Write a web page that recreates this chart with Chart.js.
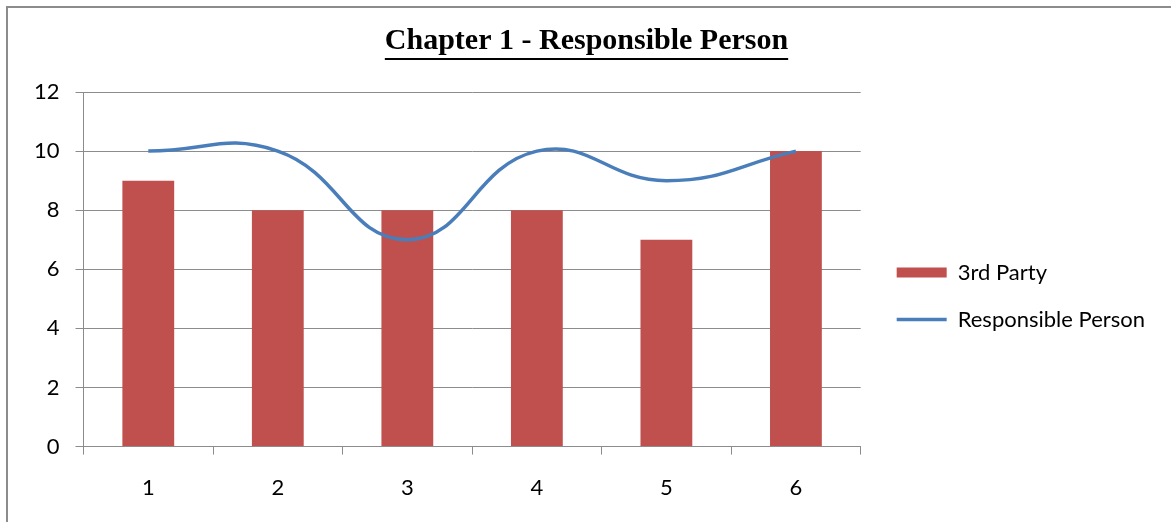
<!DOCTYPE html>
<html>
<head>
<meta charset="utf-8">
<script src="https://cdn.jsdelivr.net/npm/chart.js@4.4.1/dist/chart.umd.min.js"></script>
<style>
  html, body { margin: 0; padding: 0; background: #fff; overflow: hidden; }
  #wrap { position: relative; width: 1171px; height: 522px; }
  #frame { position: absolute; left: 6px; top: 6px; width: 1200px; height: 600px; border: 2px solid #8c8c8c; box-sizing: border-box; }
  canvas { position: absolute; left: 0; top: 0; }
</style>
</head>
<body>
<div id="wrap">
  <div id="frame"></div>
  <canvas id="c" width="1171" height="522"></canvas>
</div>
<script>
const categories = ['1', '2', '3', '4', '5', '6'];
const thirdParty = [9, 8, 8, 8, 7, 10];
const responsiblePerson = [10, 10, 7, 10, 9, 10];
const yTicks = [0, 2, 4, 6, 8, 10, 12];

const titleText = 'Chapter 1 - Responsible Person';
const labelFont = { family: 'Lato, "Liberation Sans", sans-serif', size: 22 };
const gridColor = '#8c8c8c';

// draws the underline under the title
const underlineTitle = {
  id: 'underlineTitle',
  afterDraw(chart) {
    const tb = chart.titleBlock;
    if (!tb) return;
    const ctx = chart.ctx;
    const f = Chart.helpers.toFont(tb.options.font);
    ctx.save();
    ctx.font = f.string;
    const w = ctx.measureText(titleText).width;
    const cx = tb.left + tb.width / 2;
    const y = tb.top + tb.options.padding.top + f.lineHeight / 2 + f.size * 0.6;
    ctx.strokeStyle = '#000';
    ctx.lineWidth = 2;
    ctx.beginPath();
    ctx.moveTo(cx - w / 2, y);
    ctx.lineTo(cx + w / 2, y);
    ctx.stroke();
    ctx.restore();
  }
};

new Chart(document.getElementById('c'), {
  data: {
    labels: categories,
    datasets: [
      {
        type: 'line',
        label: 'Responsible Person',
        data: responsiblePerson,
        borderColor: '#4a7ebb',
        backgroundColor: '#4a7ebb',
        borderWidth: 3.5,
        pointRadius: 0,
        tension: 0.45,
        fill: false
      },
      {
        type: 'bar',
        label: '3rd Party',
        data: thirdParty,
        backgroundColor: '#c0504d',
        borderWidth: 0,
        categoryPercentage: 1,
        barPercentage: 0.4
      }
    ]
  },
  options: {
    responsive: false,
    animation: false,
    layout: { padding: { left: 18, right: 16, top: 0, bottom: 1 } },
    plugins: {
      tooltip: { enabled: false },
      title: {
        display: true,
        text: titleText,
        color: '#000',
        font: { family: '"Liberation Serif", "Times New Roman", serif', size: 30, weight: 'bold' },
        padding: { top: 23, bottom: 33 }
      },
      legend: {
        position: 'right',
        reverse: true,
        title: { display: true, text: ' ', font: { size: 10 }, padding: { top: 59, bottom: 0 } },
        labels: {
          color: '#000',
          font: labelFont,
          usePointStyle: true,
          pointStyleWidth: 50,
          boxHeight: 10,
          padding: 25,
          generateLabels(chart) {
            const items = Chart.defaults.plugins.legend.labels.generateLabels(chart);
            items.forEach(it => {
              const ds = chart.data.datasets[it.datasetIndex];
              it.pointStyle = ds.type === 'line' ? 'line' : 'rect';
              it.lineWidth = ds.type === 'line' ? 3.5 : 0;
            });
            return items;
          }
        }
      }
    },
    scales: {
      x: {
        grid: { display: true, drawOnChartArea: false, drawTicks: true, tickLength: 8, color: gridColor, offset: true },
        border: { display: true, color: gridColor },
        ticks: { color: '#000', font: labelFont, padding: 20 }
      },
      y: {
        min: 0,
        max: 12,
        afterBuildTicks(scale) { scale.ticks = yTicks.map(v => ({ value: v })); },
        grid: { color: gridColor, tickLength: 8 },
        border: { display: true, color: gridColor },
        ticks: { color: '#000', font: labelFont, padding: 16 }
      },
      // hidden spacer between plot area and legend
      gap: {
        type: 'linear',
        position: 'right',
        display: false,
        afterFit(scale) { scale.width = 11; }
      }
    }
  },
  plugins: [underlineTitle]
});
</script>
</body>
</html>
